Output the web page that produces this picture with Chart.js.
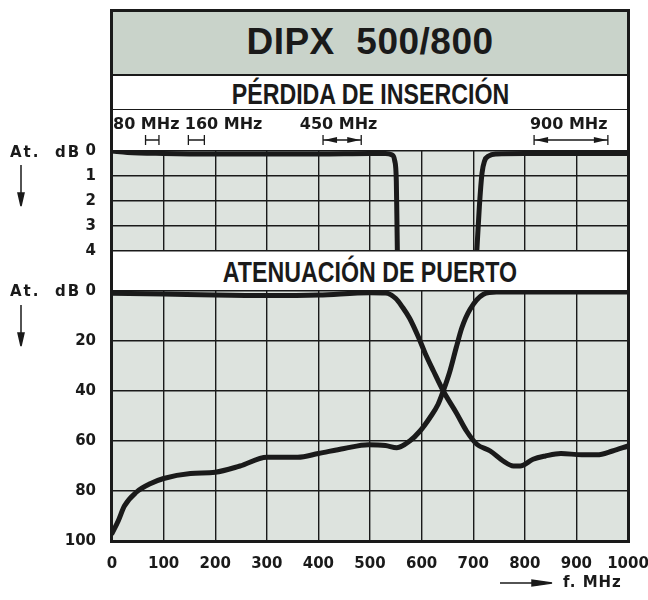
<!DOCTYPE html>
<html lang="es">
<head>
<meta charset="utf-8">
<title>DIPX 500/800</title>
<script src="https://cdn.jsdelivr.net/npm/chart.js@4.4.1/dist/chart.umd.min.js"></script>
<style>
    html, body { margin: 0; padding: 0; background: #fff; }
    #page { position: relative; width: 648px; height: 600px; overflow: hidden; color: #1a1a1a; font-family: 'DejaVu Sans', sans-serif; }
    canvas { position: absolute; left: 0; top: 0; }
    .box { position: absolute; left: 112px; width: 516px; display: flex; align-items: center; justify-content: center; box-sizing: border-box; font-family: 'Liberation Sans', Arial, sans-serif; font-weight: bold; }
    .narrow { display: inline-block; transform: scaleX(0.8); white-space: pre; }
    #title { top: 10px; height: 66px; background: #c9d3ca; border-bottom: 2px solid #1a1a1a; font-size: 37px; white-space: pre; letter-spacing: 0.5px; }
    #insLabel { top: 76px; height: 34px; background: #fff; border-bottom: 1.5px solid #1a1a1a; font-size: 29px; padding-top: 3px; }
    #portLabel { top: 252px; height: 38px; background: #fff; font-size: 29px; padding-top: 2px; }
    #frame { position: absolute; left: 110px; top: 9px; width: 520px; height: 534px; border: 3px solid #1a1a1a; box-sizing: border-box; pointer-events: none; }
    .axisName { position: absolute; left: 10px; font-weight: bold; font-size: 15px; letter-spacing: 2px; white-space: pre; }
    svg { position: absolute; left: 0; top: 0; }
    #fLabel { position: absolute; left: 563px; top: 573px; font-weight: bold; font-size: 15px; letter-spacing: 1px; white-space: pre; }
</style>
</head>
<body>
<div id="page">
    <div id="title" class="box">DIPX  500/800</div>
    <div id="insLabel" class="box"><span class="narrow">PÉRDIDA DE INSERCIÓN</span></div>
    <div id="portLabel" class="box"><span class="narrow">ATENUACIÓN DE PUERTO</span></div>
    <canvas id="insertionChart" width="648" height="600"></canvas>
    <canvas id="portChart" width="648" height="600"></canvas>
    <div class="axisName" style="top:143px">At.  dB</div>
    <div class="axisName" style="top:282px">At.  dB</div>
    <div id="fLabel">f. MHz</div>
    <svg width="648" height="600">
        <g stroke="#1a1a1a" stroke-width="1.5" fill="#1a1a1a">
            <line x1="21" y1="165" x2="21" y2="196"/>
            <polygon points="18,193 24,193 21,206"/>
            <line x1="21" y1="305" x2="21" y2="336"/>
            <polygon points="18,333 24,333 21,346"/>
            <line x1="500" y1="583" x2="538" y2="583"/>
            <polygon points="532,580 532,586 552,583"/>
        </g>
    </svg>
    <div id="frame"></div>
</div>
<script>
// Frequency axis (MHz)
const freqMin = 0;
const freqMax = 1000;
const freqStep = 100;

// Insertion loss (dB) - low pass branch
const insFreqLow = [0, 30, 100, 200, 300, 400, 500, 530, 542, 548, 551, 552, 553];
const insLossLow = [0.0, 0.06, 0.1, 0.12, 0.12, 0.12, 0.1, 0.1, 0.15, 0.4, 1.2, 2.5, 4];

// Insertion loss (dB) - high pass branch
const insFreqHigh = [707, 712, 717, 722, 730, 745, 800, 900, 1000];
const insLossHigh = [4, 2.2, 0.9, 0.4, 0.2, 0.12, 0.1, 0.1, 0.1];

// Port attenuation (dB) - low pass port
const portFreqA = [0, 100, 200, 300, 400, 500, 530, 550, 563, 577, 594, 607, 623, 642, 668, 687, 707, 733, 758, 778, 791, 816, 840, 870, 910, 940, 970, 1000];
const portAttA = [0.9, 1.2, 1.6, 1.8, 1.6, 0.7, 0.8, 3, 6.5, 11, 18.5, 25, 32, 40, 49, 56, 61.3, 64, 68, 70, 70, 67.3, 66, 65, 65.5, 65.5, 64, 62];

// Port attenuation (dB) - high pass port
const portFreqB = [0, 12, 24, 47, 75, 100, 152, 200, 248, 300, 360, 400, 450, 497, 530, 552, 577, 597, 616, 632, 642, 655, 667, 678, 694, 720, 745, 800, 900, 1000];
const portAttB = [97, 92, 86, 80.5, 77, 75, 73, 72.5, 70, 66.5, 66.5, 65, 63, 61.5, 61.8, 62.7, 60, 56, 50.7, 45.3, 40, 32, 22.7, 14.7, 7.3, 1.3, 0.4, 0.4, 0.4, 0.4];

// Y ticks
const insTickMax = 4;
const insTickStep = 1;
const portTickMax = 100;
const portTickStep = 20;

// Service bands shown above the insertion loss plot
const bandLabels = ['80 MHz', '160 MHz', '450 MHz', '900 MHz'];
const bandLabelAt = [2, 141, 364, 810];
const bandStart = [65, 148, 409, 818];
const bandEnd = [91, 179, 483, 961];
const bandArrows = [false, false, true, true];

const INK = '#1a1a1a';
const PLOT_BG = '#dde3de';
const tickFont = { family: 'DejaVu Sans', size: 15, weight: 'bold' };

document.addEventListener('DOMContentLoaded', function() {
    initInsertionChart();
    initPortChart();
});

function toPoints(xs, ys) {
    return xs.map((x, i) => ({ x: x, y: ys[i] }));
}

function curve(xs, ys) {
    return {
        data: toPoints(xs, ys),
        borderColor: INK,
        borderWidth: 5,
        pointRadius: 0,
        fill: false,
        cubicInterpolationMode: 'monotone',
        borderCapStyle: 'round',
        borderJoinStyle: 'round'
    };
}

// Light background inside the plot area
const plotBackground = {
    id: 'plotBackground',
    beforeDraw(chart) {
        const { ctx, chartArea: a } = chart;
        ctx.save();
        ctx.fillStyle = PLOT_BG;
        ctx.fillRect(a.left, a.top, a.width, a.height);
        ctx.restore();
    }
};

// Band markers above the top plot
const bandMarkers = {
    id: 'bandMarkers',
    afterDraw(chart) {
        const ctx = chart.ctx;
        const xs = chart.scales.x;
        const y = 140;
        ctx.save();
        ctx.fillStyle = INK;
        ctx.strokeStyle = INK;
        ctx.font = 'bold 16px "DejaVu Sans"';
        ctx.textBaseline = 'alphabetic';
        ctx.textAlign = 'left';
        bandLabels.forEach((label, i) => {
            ctx.fillText(label, xs.getPixelForValue(bandLabelAt[i]), 129);
            const x1 = xs.getPixelForValue(bandStart[i]);
            const x2 = xs.getPixelForValue(bandEnd[i]);
            ctx.lineWidth = 1.3;
            ctx.beginPath();
            ctx.moveTo(x1, y - 5); ctx.lineTo(x1, y + 5);
            ctx.moveTo(x2, y - 5); ctx.lineTo(x2, y + 5);
            ctx.moveTo(x1, y); ctx.lineTo(x2, y);
            ctx.stroke();
            if (bandArrows[i]) {
                const len = 14;
                ctx.beginPath();
                ctx.moveTo(x1 + 1, y); ctx.lineTo(x1 + len, y - 3); ctx.lineTo(x1 + len, y + 3); ctx.closePath();
                ctx.moveTo(x2 - 1, y); ctx.lineTo(x2 - len, y - 3); ctx.lineTo(x2 - len, y + 3); ctx.closePath();
                ctx.fill();
            }
        });
        ctx.restore();
    }
};

function baseScales(yMax, yStep) {
    return {
        x: {
            type: 'linear',
            min: freqMin,
            max: freqMax,
            ticks: {
                stepSize: freqStep, color: INK, font: tickFont, padding: 14, maxRotation: 0,
                callback: function(value) { return String(value); }
            },
            grid: { color: INK, lineWidth: 1.4, drawTicks: false },
            border: { display: false }
        },
        y: {
            min: 0,
            max: yMax,
            reverse: true,
            ticks: { stepSize: yStep, color: INK, font: tickFont, padding: 16 },
            grid: { color: INK, lineWidth: 1.4, drawTicks: false },
            border: { display: false },
            afterFit: function(scale) { scale.width = 112; }
        }
    };
}

function initInsertionChart() {
    const ctx = document.getElementById('insertionChart').getContext('2d');
    const scales = baseScales(insTickMax, insTickStep);
    scales.x.ticks.display = false;
    scales.x.afterFit = function(scale) {
        scale.height = 0;
        scale.paddingLeft = 0;
        scale.paddingRight = 0;
    };

    new Chart(ctx, {
        type: 'line',
        data: {
            datasets: [
                curve(insFreqLow, insLossLow),
                curve(insFreqHigh, insLossHigh)
            ]
        },
        options: {
            responsive: false,
            animation: false,
            layout: { padding: { left: 0, right: 20, top: 151, bottom: 349 } },
            plugins: { legend: { display: false }, tooltip: { enabled: false } },
            scales: scales
        },
        plugins: [plotBackground, bandMarkers]
    });
}

function initPortChart() {
    const ctx = document.getElementById('portChart').getContext('2d');
    const scales = baseScales(portTickMax, portTickStep);
    scales.x.afterFit = function(scale) {
        scale.height = 34;
        scale.paddingLeft = 0;
        scale.paddingRight = 0;
    };

    new Chart(ctx, {
        type: 'line',
        data: {
            datasets: [
                curve(portFreqA, portAttA),
                curve(portFreqB, portAttB)
            ]
        },
        options: {
            responsive: false,
            animation: false,
            layout: { padding: { left: 0, right: 20, top: 291, bottom: 25 } },
            plugins: { legend: { display: false }, tooltip: { enabled: false } },
            scales: scales
        },
        plugins: [plotBackground]
    });
}
</script>
</body>
</html>
